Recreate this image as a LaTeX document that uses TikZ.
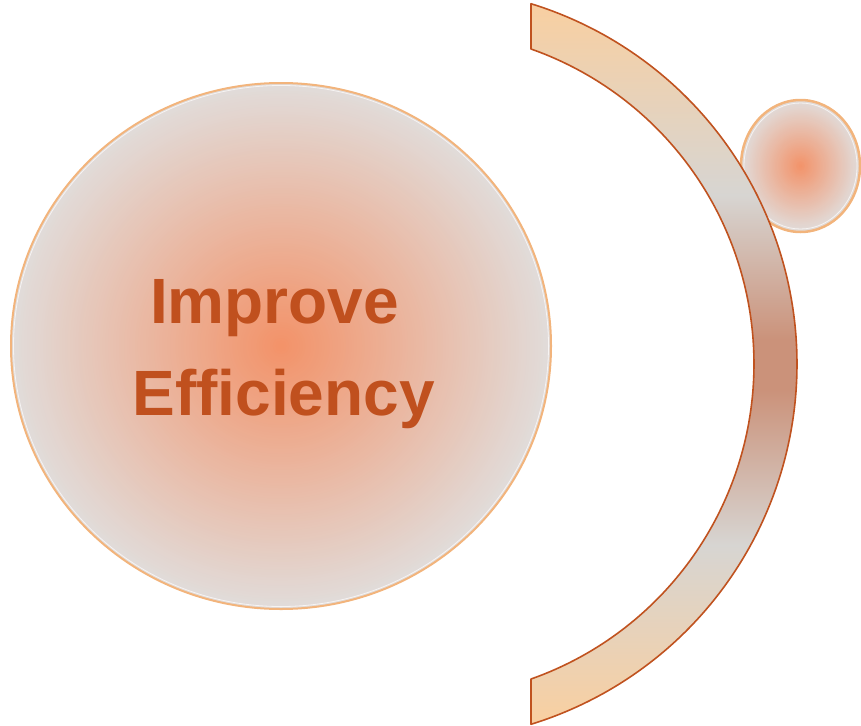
\documentclass[tikz,border=0pt]{standalone}
\usepackage{fontspec}
\setmainfont{Liberation Sans}
\usetikzlibrary{shapes.geometric}
\definecolor{cZero}{RGB}{243,146,104}
\definecolor{cThree}{RGB}{225,220,218}
\definecolor{ringcol}{RGB}{242,180,124}
\definecolor{arccol}{RGB}{192,82,31}
\definecolor{txtcol}{RGB}{192,80,30}
\definecolor{peach}{RGB}{249,207,160}
\definecolor{greyband}{RGB}{215,213,210}
\definecolor{brownband}{RGB}{203,146,122}
\tikzset{
  orb/.style={ellipse, draw=ringcol, line width=2pt, inner sep=0pt},
  sheen/.style={ellipse, draw=white, draw opacity=0.7, line width=0.8pt, inner sep=0pt},
  headline/.style={font=\bfseries\fontsize{64}{92}\selectfont, text=txtcol, anchor=base, inner sep=0pt},
  arcline/.style={draw=arccol, line width=1.6pt, line join=round}
}
\begin{document}
\begin{tikzpicture}[x=1pt,y=-1pt]
\useasboundingbox (0,0) rectangle (861,725);
\coordinate (bigc) at (281,346);
\coordinate (smallc) at (800.5,166);
% radial gradients built from concentric fills
\foreach \k in {0,...,99} {
  \pgfmathsetmacro\f{1-\k/100}
  \pgfmathsetmacro\p{100*\f}
  \fill[cThree!\p!cZero] (bigc) ellipse [x radius={270*\f}, y radius={263*\f}];
}
\foreach \k in {0,...,39} {
  \pgfmathsetmacro\f{1-\k/40}
  \pgfmathsetmacro\p{100*\f}
  \fill[cThree!\p!cZero] (smallc) ellipse [x radius={59.5*\f}, y radius={66*\f}];
}
% big circle
\node[orb, minimum width=540pt, minimum height=526pt] (big) at (bigc) {};
\node[sheen, minimum width=535pt, minimum height=521pt] (bigsheen) at (big.center) {};
\node[headline] (t1) at (274.5,323) {Improve};
\node[headline] (t2) at (283.5,415) {Efficiency};
% small circle
\node[orb, minimum width=119pt, minimum height=132pt, line width=2.5pt] (small) at (smallc) {};
\node[sheen, minimum width=113pt, minimum height=126pt] (smallsheen) at (small.center) {};
% arc band
\begin{scope}
\clip plot[domain=72.88:-72.88, samples=160] ({420+377*cos(\x)},{364-377*sin(\x)})
  -- plot[domain=-70.59:70.59, samples=160] ({420+334*cos(\x)},{364-334*sin(\x)}) -- cycle;
\shade[top color=peach, bottom color=greyband] (520,0) rectangle (810,195);
\shade[top color=greyband, bottom color=brownband] (520,195) rectangle (810,340);
\fill[brownband] (520,339.5) rectangle (810,390.5);
\shade[top color=brownband, bottom color=greyband] (520,390) rectangle (810,545);
\shade[top color=greyband, bottom color=peach] (520,545) rectangle (810,725);
\end{scope}
\path[arcline] plot[domain=72.88:-72.88, samples=160] ({420+377*cos(\x)},{364-377*sin(\x)})
  -- plot[domain=-70.59:70.59, samples=160] ({420+334*cos(\x)},{364-334*sin(\x)}) -- cycle;
\end{tikzpicture}
\end{document}
